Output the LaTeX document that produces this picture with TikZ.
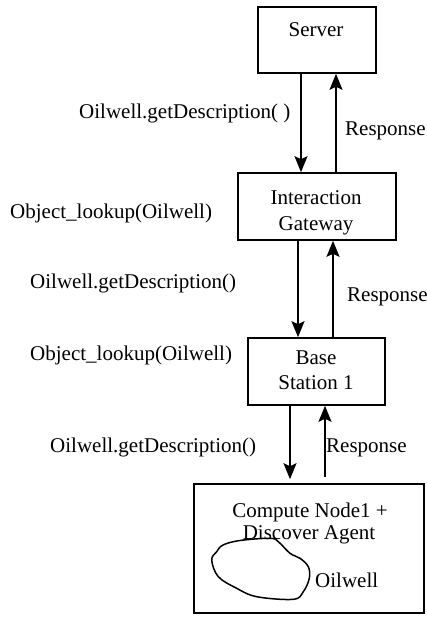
\documentclass[tikz,border=0pt]{standalone}
\usepackage{fontspec}
\setmainfont{Liberation Serif}
\usetikzlibrary{arrows.meta}
\begin{document}
\begin{tikzpicture}[x=1pt,y=-1pt,
  box/.style={draw,line width=1.6pt,inner sep=0pt,minimum width=#1},
  txt/.style={inner sep=0pt,font=\fontsize{21}{25}\selectfont},
  arr/.style={line width=1.5pt,-{Stealth[length=16pt,width=13pt,inset=3pt]}}]
\useasboundingbox (0,0) rectangle (427,617);
% boxes
\node[box=118pt,minimum height=66pt] (server) at (317,40) {};
\node[box=158pt,minimum height=67pt] (gateway) at (317,206.5) {};
\node[box=137pt,minimum height=67pt] (base) at (316.5,371.5) {};
\node[box=230pt,minimum height=129pt] (compute) at (309,548.5) {};
% box texts
\node[txt,anchor=base] (tserver) at (316,37) {Server};
\node[txt,anchor=base] (tgw1) at (316,205) {Interaction};
\node[txt,anchor=base] (tgw2) at (316,230) {Gateway};
\node[txt,anchor=base] (tbs1) at (316,364) {Base};
\node[txt,anchor=base] (tbs2) at (316,389) {Station 1};
\node[txt,anchor=base] (tcn1) at (310,517.5) {Compute Node1 +};
\node[txt,anchor=base] (tcn2) at (309,539) {Discover Agent};
\node[txt,anchor=base west] (toil) at (315,587) {Oilwell};
% blob
\draw[line width=1.5pt] plot[smooth cycle,tension=0.6] coordinates {
 (223,545) (240,540.5) (270,538.3) (278.3,541.7) (290,553.3) (300,558.3)
 (308.3,566.7) (309.3,578.3) (303.3,591.7) (293.3,599.3) (256.7,596.7)
 (236.7,588.3) (218.3,576.7) (211.7,560) (216.7,551.7)};
% arrow x positions
\coordinate (a1) at (301,0);
\coordinate (b1) at (336,0);
\coordinate (a2) at (298,0);
\coordinate (b2) at (333,0);
\coordinate (a3) at (290,0);
\coordinate (b3) at (325,0);
% arrows
\draw[arr] (a1 |- server.south) -- (a1 |- gateway.north);
\draw[arr] (b1 |- gateway.north) -- (b1 |- server.south);
\draw[arr] (a2 |- gateway.south) -- (a2 |- base.north);
\draw[arr] (b2 |- base.north) -- (b2 |- gateway.south);
\draw[arr,shorten >=4pt] (a3 |- base.south) -- (a3 |- compute.north);
\draw[arr,shorten <=6pt] (b3 |- compute.north) -- (b3 |- base.south);
% labels
\node[txt,anchor=base west] (l1) at (79,119) {Oilwell.getDescription( )};
\node[txt,anchor=base west] (r1) at (345,136) {Response};
\node[txt,anchor=base west] (o1) at (10,219) {Object\_lookup(Oilwell)};
\node[txt,anchor=base west] (l2) at (30,288) {Oilwell.getDescription()};
\node[txt,anchor=base west] (r2) at (347,301.5) {Response};
\node[txt,anchor=base west] (o2) at (30,360.5) {Object\_lookup(Oilwell)};
\node[txt,anchor=base west] (l3) at (50,452.5) {Oilwell.getDescription()};
\node[txt,anchor=base west] (r3) at (326,452.5) {Response};
\end{tikzpicture}
\end{document}
